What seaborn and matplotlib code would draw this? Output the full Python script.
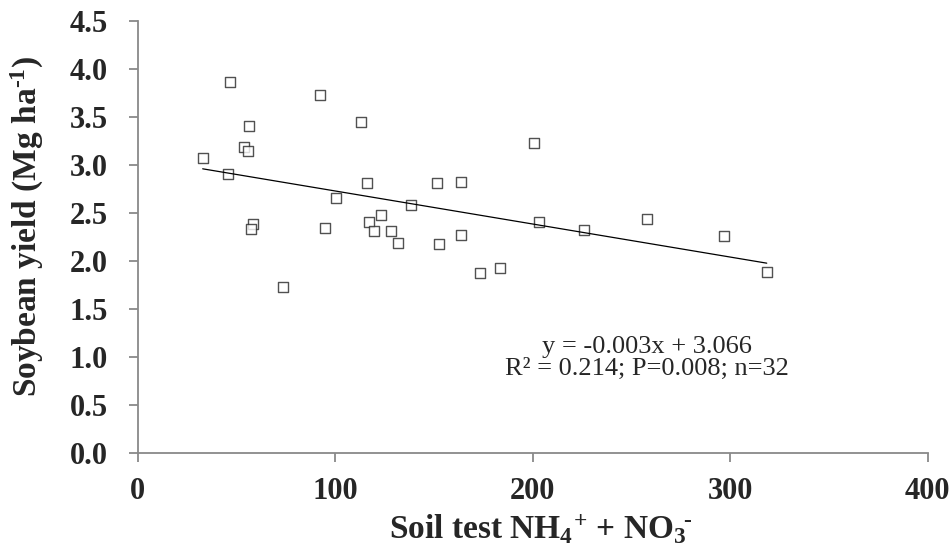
import numpy as np
import pandas as pd
import matplotlib
matplotlib.use("Agg")
import matplotlib.pyplot as plt
import seaborn as sns

# Data
soil_n = [46.9, 92.3, 56.2, 54.0, 55.7, 32.9, 45.9, 100.4, 58.2, 57.4, 95.0, 73.6,
          113.2, 200.7, 116.3, 151.4, 163.9, 138.4, 123.3, 117.3, 119.6, 128.3,
          132.0, 152.6, 163.9, 173.3, 183.4, 203.3, 225.8, 257.9, 296.9, 318.5]
yield_mg = [3.86, 3.73, 3.41, 3.19, 3.14, 3.07, 2.90, 2.65, 2.38, 2.33, 2.34, 1.73,
            3.45, 3.23, 2.81, 2.81, 2.82, 2.58, 2.48, 2.41, 2.31, 2.31,
            2.19, 2.18, 2.27, 1.87, 1.93, 2.41, 2.32, 2.44, 2.26, 1.88]
x_ticks = [0, 100, 200, 300, 400]
y_ticks = [0.0, 0.5, 1.0, 1.5, 2.0, 2.5, 3.0, 3.5, 4.0, 4.5]
equation_text = "y = -0.003x + 3.066\nR\u00b2 = 0.214; P=0.008; n=32"

df = pd.DataFrame({"soil": soil_n, "yield": yield_mg})

sns.set_style("white")
plt.rcParams["font.family"] = ["Liberation Serif", "DejaVu Serif"]
plt.rcParams["mathtext.fontset"] = "custom"
plt.rcParams["mathtext.rm"] = "Liberation Serif:bold"
plt.rcParams["mathtext.it"] = "Liberation Serif:bold"
plt.rcParams["mathtext.bf"] = "Liberation Serif:bold"

fig = plt.figure(figsize=(9.51, 5.60), dpi=100)
ax = fig.add_axes([0.1448, 0.1916, 0.8307, 0.7709])

sns.regplot(data=df, x="soil", y="yield", ax=ax, ci=None, marker="s",
            scatter_kws=dict(s=62, facecolors="white", edgecolors="#262626", linewidths=1.0),
            line_kws=dict(color="black", linewidth=0.9))

ax.set_xlim(0, 400)
ax.set_ylim(0, 4.5)
ax.set_xticks(x_ticks)
ax.set_yticks(y_ticks)
ax.set_xticklabels([f"{v:d}" for v in x_ticks], fontsize=22, fontweight="bold")
ax.set_yticklabels([f"{v:.1f}" for v in y_ticks], fontsize=22, fontweight="bold")

for side in ["top", "right"]:
    ax.spines[side].set_visible(False)
for side in ["left", "bottom"]:
    ax.spines[side].set_color("#898989")
    ax.spines[side].set_linewidth(1.3)
ax.tick_params(axis="both", direction="out", length=6.5, width=1.3, color="#898989",
               left=True, bottom=True)
ax.tick_params(axis="y", pad=15)
ax.tick_params(axis="x", pad=11)

hy = "\u2010"
ax.set_xlabel("Soil test NH$_4$$^{\\!+}\\,$+ NO$_3$$^{\\!" + hy + "}$", fontsize=24, fontweight="bold")
ax.set_ylabel("Soybean yield (Mg ha$^{" + hy + "1}$)", fontsize=24, fontweight="bold")
ax.xaxis.label.set_va("center")
ax.yaxis.label.set_va("center")
ax.xaxis.set_label_coords(0.51, -0.179)
ax.yaxis.set_label_coords(-0.14, 0.525)

ax.text(0.6447, 0.2194, equation_text, transform=ax.transAxes, ha="center", va="center",
        fontsize=19, linespacing=1.0)

fig.savefig("out.png", dpi=100)
